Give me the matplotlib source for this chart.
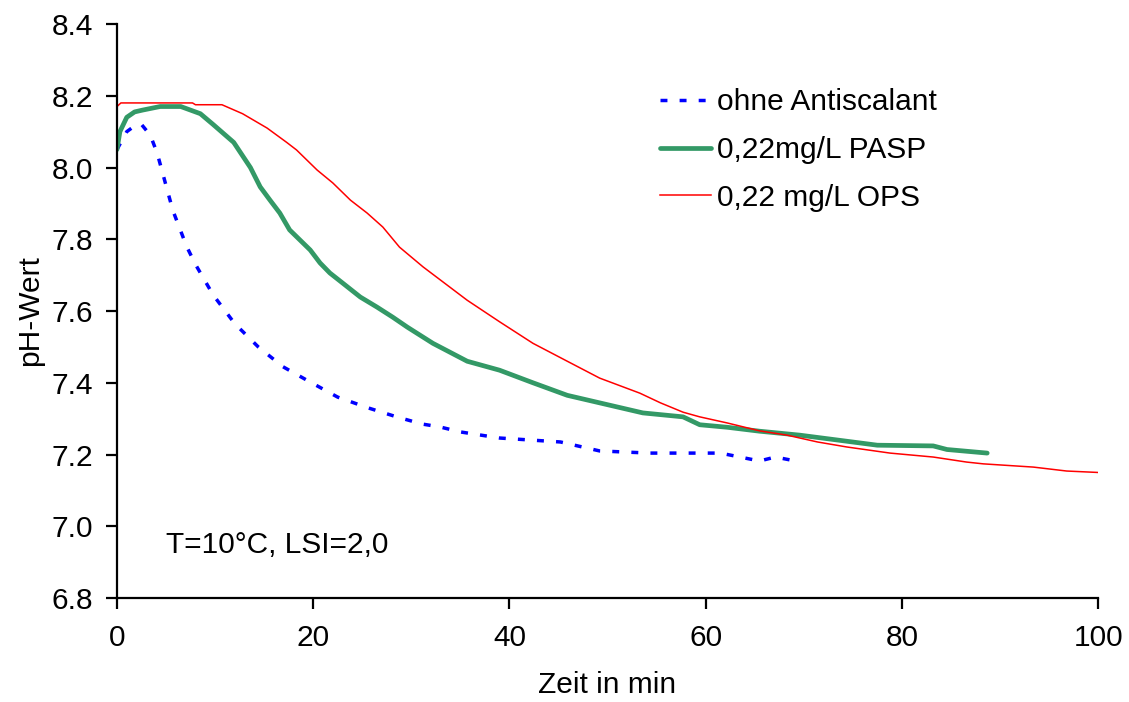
import matplotlib

matplotlib.use("Agg")

import matplotlib.pyplot as plt

plt.rcParams["font.family"] = ["Liberation Sans", "DejaVu Sans"]

# values
t_ohne = [0, 1.0, 2.0, 2.5, 3.4, 4.1, 4.6, 5.2, 5.7, 6.4, 7.1, 8.0, 9.8, 12.0, 14.4, 16.9,
          19.5, 22.5, 25.6, 28.5, 31.1, 32.9, 35.0, 39.0, 45.2, 49.2, 54.3, 61.5, 65.5,
          67.1, 68.6, 69.2]
ph_ohne = [8.05, 8.10, 8.12, 8.12, 8.09, 8.04, 7.99, 7.93, 7.88, 7.83, 7.78, 7.73, 7.645,
           7.565, 7.50, 7.445, 7.405, 7.36, 7.33, 7.305, 7.285, 7.277, 7.263, 7.246, 7.235,
           7.21, 7.204, 7.204, 7.182, 7.193, 7.185, 7.18]

t_pasp = [0, 0.3, 1.0, 1.8, 2.6, 4.4, 6.5, 8.5, 9.8, 11.9, 13.6, 14.6, 15.6, 16.6, 17.6,
          18.65, 19.7, 20.7, 21.7, 23.0, 24.8, 26.5, 28.1, 29.6, 32.2, 35.7, 39.0, 42.4,
          45.9, 49.2, 53.6, 57.7, 59.4, 62.2, 65.5, 69.6, 74.4, 77.5, 83.2, 84.6, 88.7]
ph_pasp = [8.05, 8.10, 8.14, 8.155, 8.16, 8.17, 8.17, 8.15, 8.12, 8.07, 8.00, 7.946, 7.909,
           7.873, 7.826, 7.798, 7.77, 7.734, 7.706, 7.678, 7.639, 7.611, 7.583, 7.555, 7.51,
           7.46, 7.435, 7.40, 7.365, 7.344, 7.316, 7.305, 7.283, 7.276, 7.265, 7.254, 7.237,
           7.226, 7.224, 7.214, 7.204]

t_ops = [0, 0.4, 7.7, 8.0, 10.7, 12.8, 15.3, 17.3, 18.3, 20.4, 22.0, 23.8, 25.5, 27.1,
         28.8, 31.2, 35.7, 39.0, 42.4, 45.9, 49.2, 53.3, 55.4, 57.7, 59.4, 62.2, 65.5,
         68.3, 71.4, 74.4, 78.8, 83.2, 86.6, 88.3, 93.4, 96.8, 100]
ph_ops = [8.17, 8.18, 8.18, 8.175, 8.175, 8.15, 8.11, 8.07, 8.049, 7.993, 7.957, 7.909,
          7.873, 7.834, 7.778, 7.723, 7.63, 7.57, 7.51, 7.46, 7.413, 7.371, 7.344, 7.318,
          7.305, 7.288, 7.266, 7.254, 7.235, 7.221, 7.204, 7.193, 7.179, 7.174, 7.165,
          7.154, 7.15]

labels = ["ohne Antiscalant", "0,22mg/L PASP", "0,22 mg/L OPS"]
x_ticks = [0, 20, 40, 60, 80, 100]
y_ticks = [6.8, 7.0, 7.2, 7.4, 7.6, 7.8, 8.0, 8.2, 8.4]

BLUE = "#0000FF"
GREEN = "#339966"
RED = "#FF0000"
FS = 21.5

fig = plt.figure(figsize=(11.29, 7.02), dpi=100)
ax = fig.add_axes([0.1036, 0.1481, 0.8690, 0.8177])

ax.plot(t_ohne, ph_ohne, color=BLUE, lw=2.5, ls=(0, (2, 3.5)), label=labels[0])
ax.plot(t_pasp, ph_pasp, color=GREEN, lw=3.4, solid_capstyle="round", label=labels[1])
ax.plot(t_ops, ph_ops, color=RED, lw=1.1, label=labels[2])

ax.set_xlim(0, 100)
ax.set_ylim(6.8, 8.4)
ax.set_xticks(x_ticks)
ax.set_yticks(y_ticks)
ax.set_xticklabels([str(v) for v in x_ticks])
ax.set_yticklabels([f"{v:.1f}" for v in y_ticks])

for side in ("top", "right"):
    ax.spines[side].set_visible(False)
for side in ("left", "bottom"):
    ax.spines[side].set_linewidth(1.6)
ax.tick_params(axis="both", direction="out", length=8, width=1.6, labelsize=FS)
ax.tick_params(axis="x", pad=11)
ax.tick_params(axis="y", pad=9)

ax.set_xlabel("Zeit in min", fontsize=FS)
ax.set_ylabel("pH-Wert", fontsize=FS)
ax.xaxis.set_label_coords(0.50, -0.152)
ax.xaxis.label.set_verticalalignment("center")
ax.yaxis.set_label_coords(-0.089, 0.50)
ax.yaxis.label.set_verticalalignment("center")

ax.text(5.0, 6.948, "T=10°C, LSI=2,0", fontsize=FS, ha="left", va="center")

ax.legend(loc="upper left", bbox_to_anchor=(0.5535, 0.888), frameon=False, fontsize=FS,
          handlelength=1.7, handletextpad=0.22, labelspacing=0.66, borderpad=0,
          borderaxespad=0)

fig.savefig("out.png", dpi=100)
